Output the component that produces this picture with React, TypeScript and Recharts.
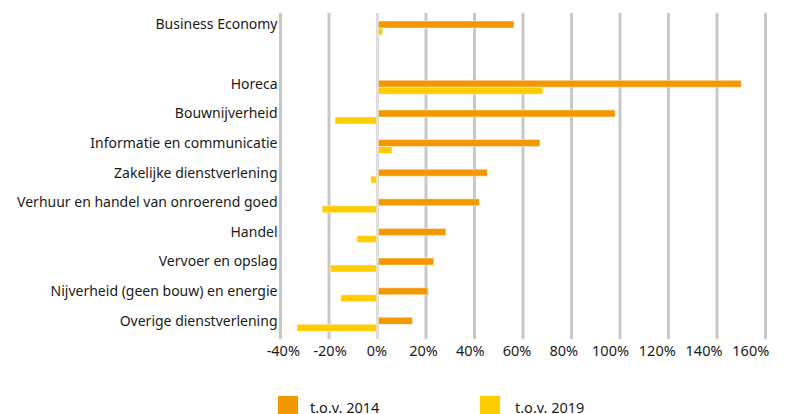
import React from "react";
import { BarChart, Bar, XAxis, YAxis, CartesianGrid, ReferenceLine } from "recharts";

const categories = [
  "Business Economy",
  "",
  "Horeca",
  "Bouwnijverheid",
  "Informatie en communicatie",
  "Zakelijke dienstverlening",
  "Verhuur en handel van onroerend goed",
  "Handel",
  "Vervoer en opslag",
  "Nijverheid (geen bouw) en energie",
  "Overige dienstverlening",
];
const tov2014: (number | null)[] = [56.3, null, 150, 98, 67, 45.3, 42, 28.2, 23.2, 20.8, 14.4];
const tov2019: (number | null)[] = [2.1, null, 68.2, -17.5, 6, -2.8, -22.8, -8.5, -19.5, -15.1, -33.2];
const xTicks = [-40, -20, 0, 20, 40, 60, 80, 100, 120, 140, 160];
const seriesNames = ["t.o.v. 2014", "t.o.v. 2019"];
const seriesColors = ["#F39800", "#FFCC00"];

const data = categories.map((name, i) => ({ name, a: tov2014[i], b: tov2019[i] }));

const FONT = "'Noto Sans', sans-serif";

const YTick = (props: any) => {
  const { x, y, payload } = props;
  return (
    <text x={x} y={y + 1.5} textAnchor="end" fontSize={14} fontFamily={FONT} fill="#1a1a1a">
      {payload.value}
    </text>
  );
};

export default function App() {
  return (
    <div style={{ position: "fixed", left: 0, top: 0, width: 789, height: 414, overflow: "hidden", background: "#fff" }}>
      <BarChart
        width={789}
        height={414}
        data={data}
        layout="vertical"
        margin={{ top: 13, right: 23.5, bottom: 45, left: 0 }}
        barGap={0}
      >
        <CartesianGrid xAxisId="main" horizontal={false} vertical stroke="#c8c8c8" strokeWidth={3} />
        <XAxis xAxisId="main" type="number" domain={[-40, 160]} ticks={xTicks} hide allowDataOverflow />
        <XAxis
          xAxisId="lab"
          type="number"
          domain={[-41.2, 166.3]}
          ticks={xTicks}
          allowDataOverflow
          axisLine={false}
          tickLine={false}
          tickSize={0}
          tickMargin={7}
          height={30}
          interval={0}
          tickFormatter={(v: number) => `${v}%`}
          tick={{ fontSize: 14.5, fontFamily: FONT, fill: "#1a1a1a" }}
        />
        <YAxis
          type="category"
          dataKey="name"
          width={280.5}
          axisLine={false}
          tickLine={false}
          tickSize={0}
          tickMargin={3}
          interval={0}
          tick={<YTick />}
        />
        <Bar xAxisId="main" dataKey="a" name={seriesNames[0]} fill={seriesColors[0]} barSize={7} stroke="rgba(255,255,255,0.45)" strokeWidth={1} isAnimationActive={false} />
        <Bar xAxisId="main" dataKey="b" name={seriesNames[1]} fill={seriesColors[1]} barSize={7} stroke="rgba(255,255,255,0.45)" strokeWidth={1} isAnimationActive={false} />
        <ReferenceLine xAxisId="main" x={0} stroke="#e3e3e3" strokeWidth={2.4} />
      </BarChart>
      <div style={{ position: "absolute", left: 0, top: 396, width: 789, height: 24, fontFamily: FONT, fontSize: 14.5, color: "#1a1a1a" }}>
        {seriesNames.map((n, i) => (
          <div key={n} style={{ position: "absolute", left: 278 + i * 202, top: 0, display: "flex", alignItems: "center", height: 20 }}>
            <div style={{ width: 20, height: 20, background: seriesColors[i] }} />
            <span style={{ marginLeft: 12 + i * 3, lineHeight: "20px", position: "relative", top: 1 }}>{n}</span>
          </div>
        ))}
      </div>
    </div>
  );
}
